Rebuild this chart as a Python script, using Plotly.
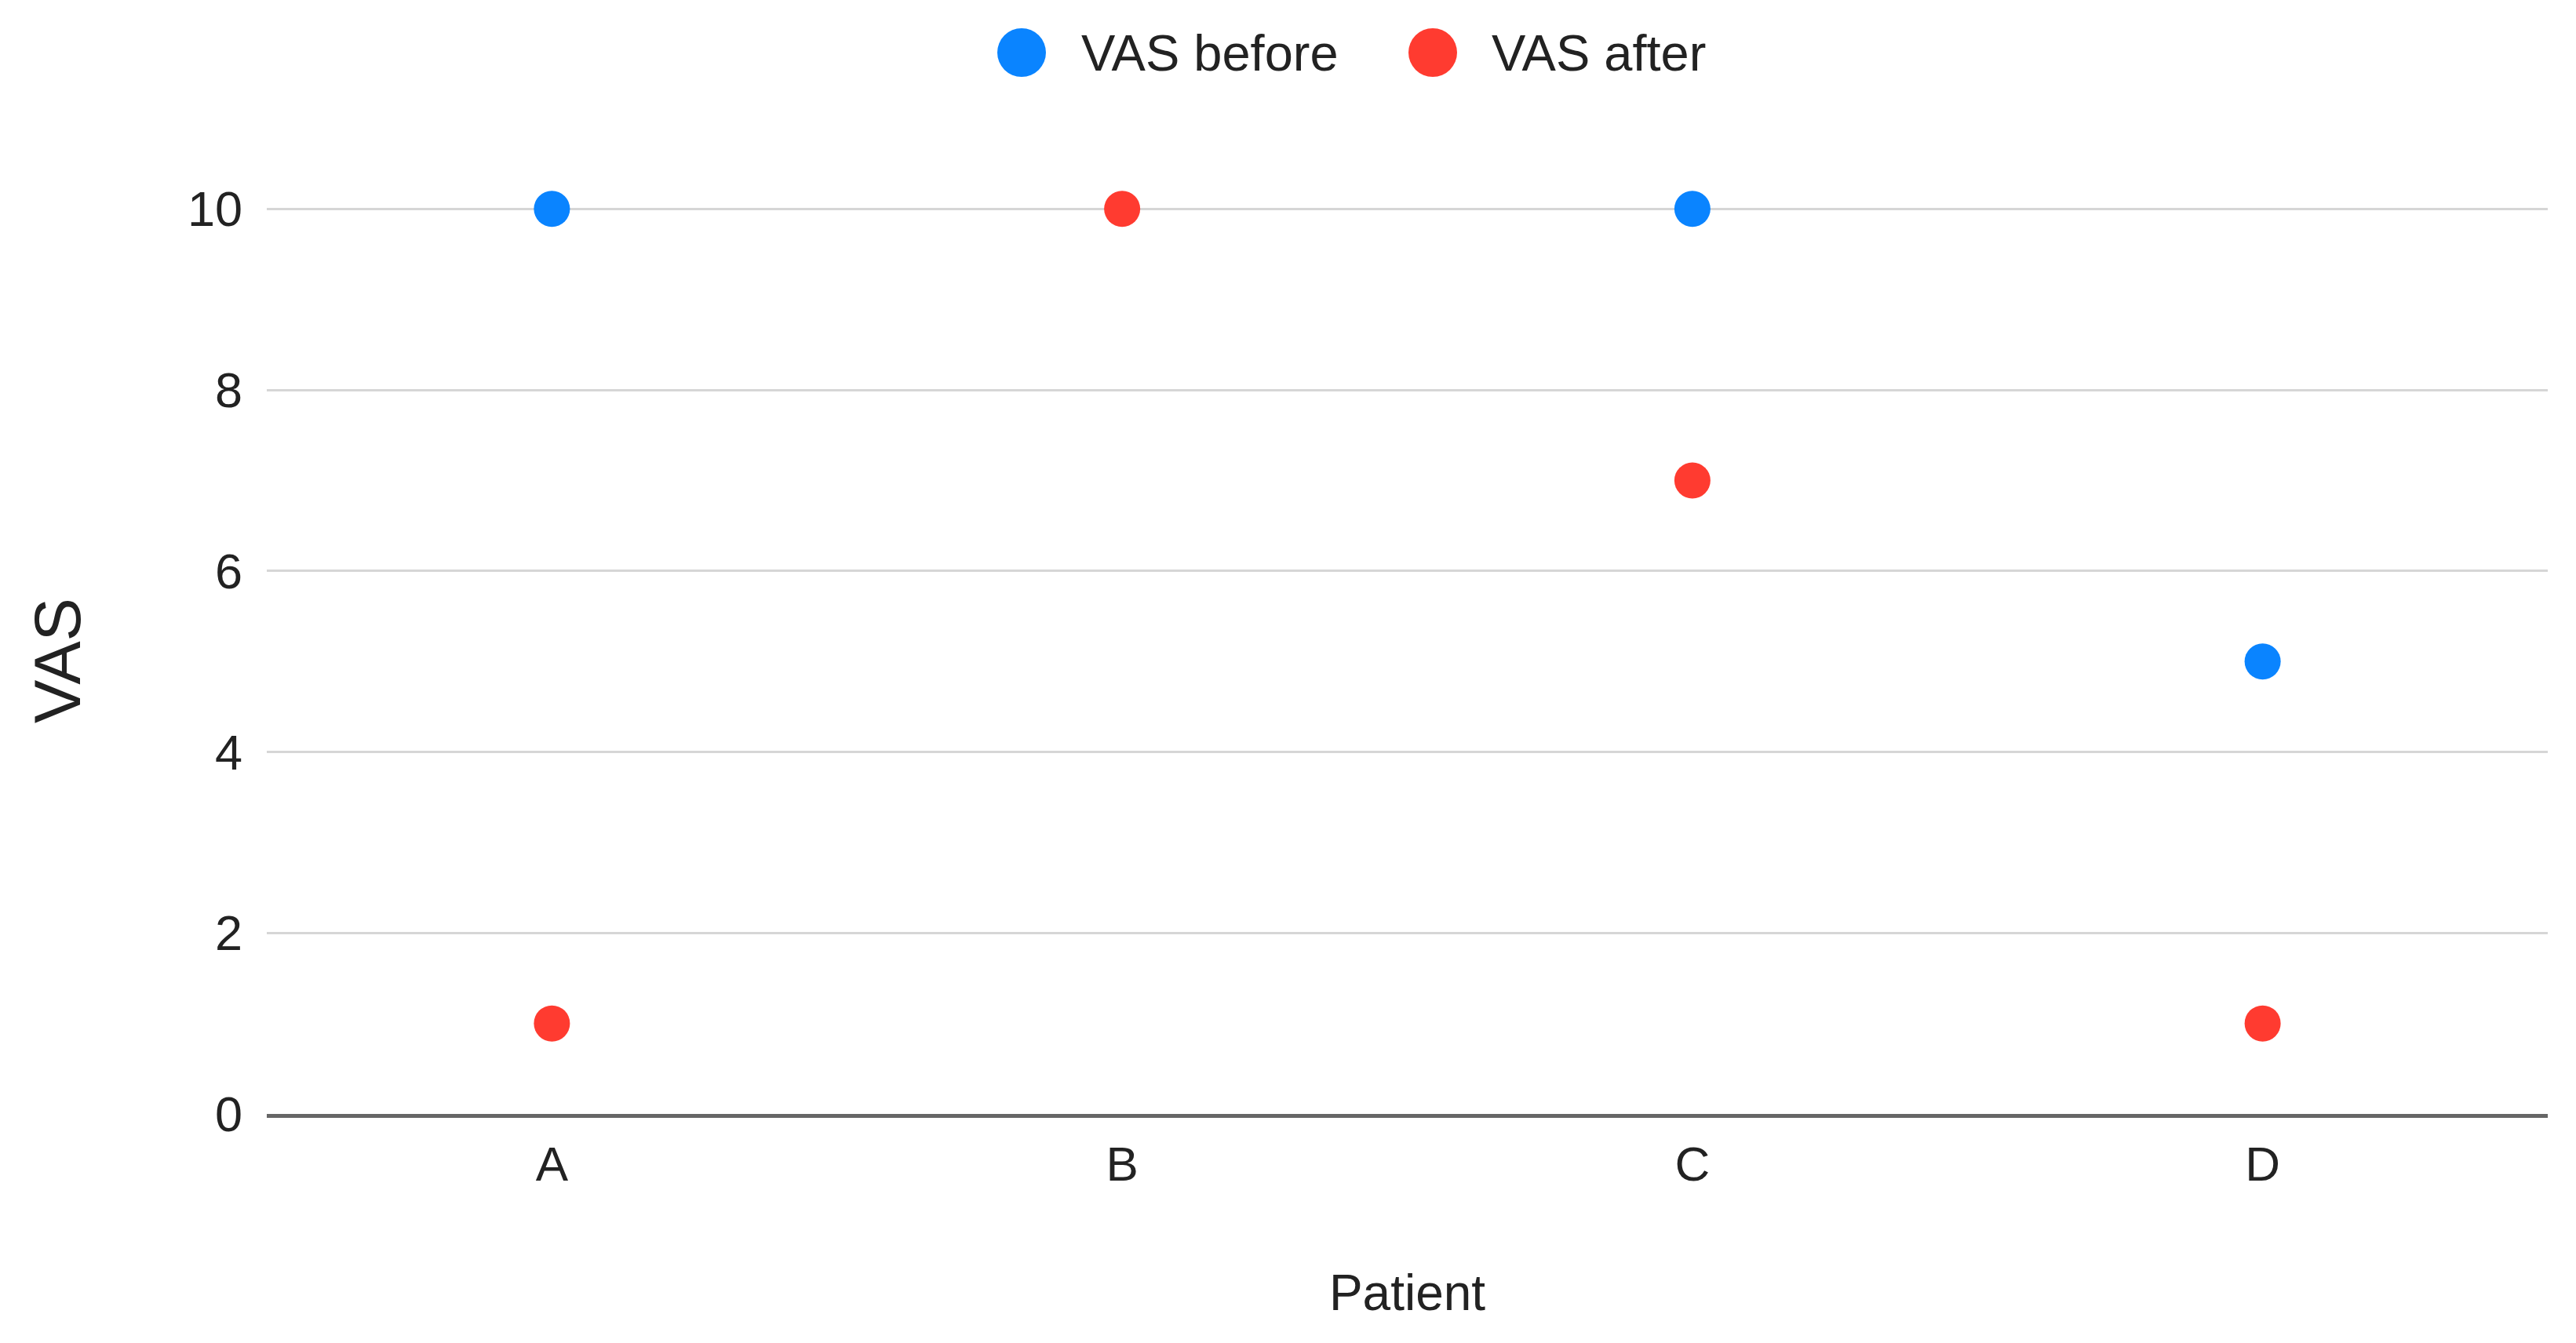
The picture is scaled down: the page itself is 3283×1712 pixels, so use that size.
import plotly.graph_objects as go

patients = ["A", "B", "C", "D"]
vas_before = [10, None, 10, 5]
vas_after = [1, 10, 7, 1]
y_ticks = [0, 2, 4, 6, 8, 10]

BLUE = "#0A84FF"
RED = "#FF3B30"
FONT = "Liberation Sans, Arial, sans-serif"

W, H = 3283, 1712
ML, MR, MT, MB = 332, 44, 256, 300
plot_w = W - ML - MR
plot_h = H - MT - MB

fig = go.Figure()
fig.add_trace(go.Scatter(x=patients, y=vas_before, mode="markers", name="VAS before",
                         marker=dict(color=BLUE, size=46, line=dict(width=0)), cliponaxis=False))
fig.add_trace(go.Scatter(x=patients, y=vas_after, mode="markers", name="VAS after",
                         marker=dict(color=RED, size=46, line=dict(width=0)), cliponaxis=False))

def px_x(X):
    return (X - ML) / plot_w

def px_y(Y):
    return (H - MB - Y) / plot_h

# custom legend (large symbols)
legend_items = [("VAS before", BLUE, 1294, 1368), ("VAS after", RED, 1818, 1891)]
shapes = []
annotations = []
for label, color, cx, tx in legend_items:
    shapes.append(dict(type="circle", xref="paper", yref="paper", xsizemode="pixel", ysizemode="pixel",
                       xanchor=px_x(cx), yanchor=px_y(59), x0=-31, x1=31, y0=-31, y1=31,
                       fillcolor=color, line=dict(width=0)))
    annotations.append(dict(text=label, xref="paper", yref="paper", x=px_x(tx), y=px_y(59),
                            xanchor="left", yanchor="middle", showarrow=False,
                            font=dict(family=FONT, size=65, color="#222222")))

fig.update_layout(
    width=W, height=H,
    margin=dict(l=ML, r=MR, t=MT, b=MB),
    paper_bgcolor="white", plot_bgcolor="white",
    showlegend=False,
    shapes=shapes, annotations=annotations,
    font=dict(family=FONT, color="#222222"),
)
fig.update_xaxes(
    type="category", categoryorder="array", categoryarray=patients,
    range=[-0.5, 3.5],
    showgrid=False, zeroline=False,
    showline=True, linecolor="#666666", linewidth=5,
    ticks="", ticklabelstandoff=6,
    tickfont=dict(family=FONT, size=62, color="#222222"),
    title=dict(text="Patient", font=dict(family=FONT, size=64, color="#222222"), standoff=109),
)
fig.update_yaxes(
    range=[0, 10.02], tickvals=y_ticks,
    showgrid=True, gridcolor="#D6D6D6", gridwidth=3,
    zeroline=False, showline=False,
    ticks="", ticklabelstandoff=30,
    tickfont=dict(family=FONT, size=63, color="#222222"),
    title=dict(text="VAS", font=dict(family=FONT, size=83, color="#222222"), standoff=108),
)

fig.write_html("out.html")
